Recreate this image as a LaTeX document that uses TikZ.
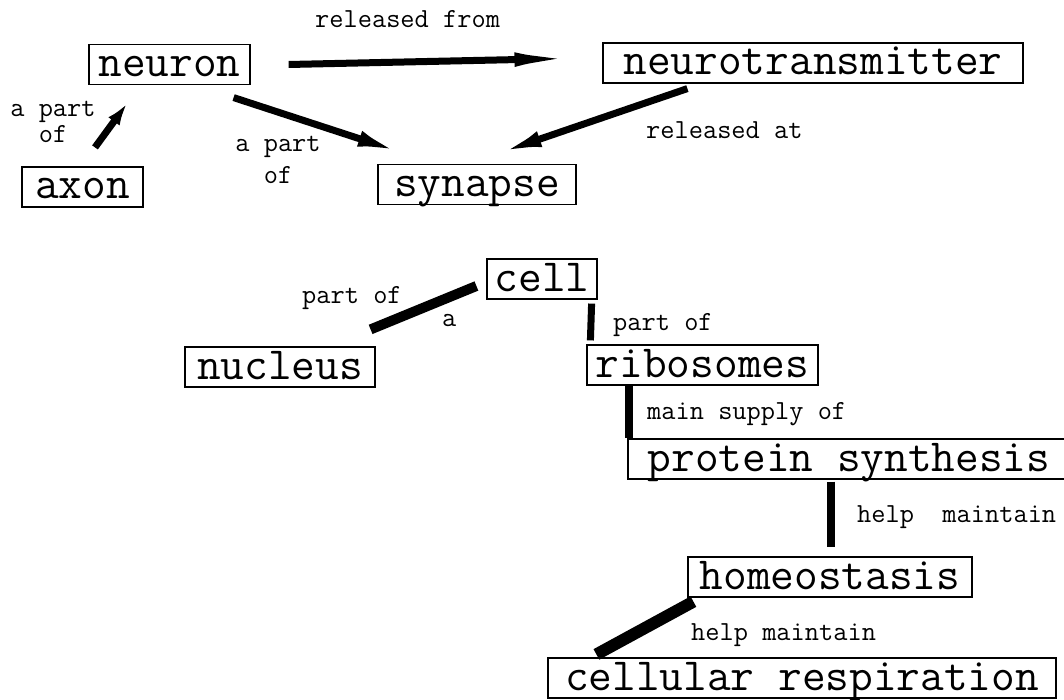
\documentclass[tikz,border=0pt]{standalone}
\usepackage{fontspec}
\usetikzlibrary{arrows.meta,calc}
\newcommand{\conceptfont}{\ttfamily\fontsize{46pt}{46pt}\selectfont}
\newcommand{\linkfont}{\ttfamily\fontsize{27.6pt}{26pt}\selectfont}
\tikzset{
  concept/.style={draw, line width=1.2pt, font=\conceptfont, inner xsep=0pt, inner ysep=2pt, text height=30pt, text depth=6pt},
  linkword/.style={font=\linkfont, inner sep=0pt, anchor=base west},
  link/.style={line width=7pt, -{Latex[length=44pt,width=16pt]}},
  bar/.style={line width=8pt}
}
\begin{document}
\begin{tikzpicture}[x=1pt, y=-1pt]
    \useasboundingbox (0,0) rectangle (1064,700);

    % Conceptos de arriba
    \node[concept, minimum width=161pt] (neuron) at (169.5,64.5) {neuron};
    \node[concept, minimum width=420pt] (nt) at (813,63) {neurotransmitter};
    \node[concept, minimum width=121pt] (axon) at (82.5,187) {axon};
    \node[concept, minimum width=198pt] (synapse) at (477,184.5) {synapse};

    % Flechas de arriba
    \draw[link, -{Latex[length=22pt,width=14pt]}] ($(axon.north)+(12.5,-19)$) -- ($(neuron.south)+(-42.5,18.5)$);
    \draw[link] ($(neuron.south east)+(-17,12.5)$) -- ($(synapse.north west)+(24,-11.5)$);
    \draw[link] ($(nt.south west)+(85,5)$) -- ($(synapse.north)+(21,-10.5)$);
    \draw[link, -{Latex[length=75pt,width=14pt]}] ($(neuron.east)+(38,0)$) -- ($(nt.west)+(-13,-5)$);

    % Palabras de enlace de arriba
    \node[linkword] (lblfrom) at (315,28) {released from};
    \node[linkword] (lblat) at (646,139) {released at};
    \node[linkword, anchor=center, align=center] (lblaxon) at (53,121.5) {a part\\of};
    \node[linkword, anchor=center, align=center] (lblsyn) at (278,159.5) {a part\\[6pt]of};

    % Conceptos de abajo
    \node[concept, minimum width=110pt] (cell) at (542,279) {cell};
    \node[concept, minimum width=190pt] (nucleus) at (280,367) {nucleus};
    \node[concept, minimum width=231pt] (ribosomes) at (702.5,365) {ribosomes};
    \node[concept, minimum width=442pt] (protein) at (849,459) {protein synthesis};
    \node[concept, minimum width=284pt] (homeostasis) at (830,577) {homeostasis};
    \node[concept, minimum width=508pt] (cellular) at (802,678) {cellular respiration};

    % Barras
    \draw[bar, line width=10pt] ($(nucleus.north east)+(-5,-17)$) -- ($(cell.west)+(-10,7)$);
    \draw[bar, line width=7pt] ($(cell.south east)+(-6,4)$) -- ($(ribosomes.north west)+(4,-4)$);
    \draw[bar] ($(ribosomes.south west)+(43,0)$) -- ($(protein.north west)+(2,0)$);
    \draw[bar] ($(protein.south)+(-18,2)$) -- ($(homeostasis.north)+(1,-9)$);
    \draw[bar, line width=12pt] ($(homeostasis.south west)+(6,4)$) -- ($(cellular.north west)+(49,-3)$);

    % Palabras de enlace de abajo
    \node[linkword] (lblnuc) at (302,303) {part of};
    \node[linkword] (lbla) at (442,326) {a};
    \node[linkword] (lblribo) at (613,330) {part of};
    \node[linkword] (lblsupply) at (647,419) {main supply of};
    \node[linkword] (lblhelp) at (857,522) {help\ \ maintain};
    \node[linkword] (lblresp) at (691,640) {help maintain};
\end{tikzpicture}
\end{document}
